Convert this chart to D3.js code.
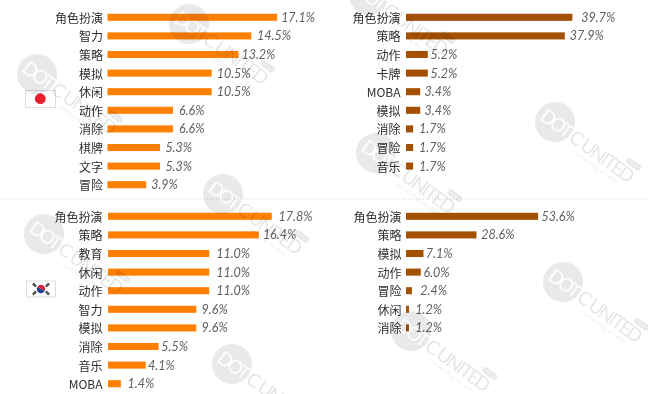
<!DOCTYPE html>
<html><head><meta charset="utf-8">
<script src="https://cdn.jsdelivr.net/npm/d3@7"></script>
<style>
html,body{margin:0;padding:0;background:#fff}
svg{display:block;filter:blur(.35px)}
.cat{font-family:"Noto Sans CJK SC",sans-serif;font-size:12px;fill:#2e2e2e;text-anchor:end;dominant-baseline:central}
.val{font-family:"Lato","Open Sans",sans-serif;font-style:italic;font-size:12.5px;fill:#5f5f5f;letter-spacing:0;dominant-baseline:central}
.wm{font-family:"Lato",sans-serif;font-weight:400}
</style></head><body>
<svg id="c" width="648" height="394"></svg>
<script>
const jpRevenueCats=["角色扮演","智力","策略","模拟","休闲","动作","消除","棋牌","文字","冒险"];
const jpRevenueVals=[17.1,14.5,13.2,10.5,10.5,6.6,6.6,5.3,5.3,3.9];
const jpDownloadCats=["角色扮演","策略","动作","卡牌","MOBA","模拟","消除","冒险","音乐"];
const jpDownloadVals=[39.7,37.9,5.2,5.2,3.4,3.4,1.7,1.7,1.7];
const krRevenueCats=["角色扮演","策略","教育","休闲","动作","智力","模拟","消除","音乐","MOBA"];
const krRevenueVals=[17.8,16.4,11.0,11.0,11.0,9.6,9.6,5.5,4.1,1.4];
const krDownloadCats=["角色扮演","策略","模拟","动作","冒险","休闲","消除"];
const krDownloadVals=[53.6,28.6,7.1,6.0,2.4,1.2,1.2];
// layout only: gap between bar end and its value label
const jpRevenueGaps=[4,5.7,3,5,5,6,6,5.3,5.3,5];
const jpDownloadGaps=[9,5,2.7,2.7,4.3,4.3,6,6,6];
const krRevenueGaps=[6.7,4,7,7,7,5.3,5.3,2.7,2.3,6.7];
const krDownloadGaps=[3.3,4.7,2.3,2.7,8.3,6.3,6.3];
const watermarkCentres=[[37,74],[189,24],[223,194],[44,234],[232,364],[369,-5],[555,122],[376,153],[563,282],[411,331]];

const svg=d3.select("#c");

svg.append("line").attr("x1",0).attr("x2",648).attr("y1",199).attr("y2",199)
  .attr("stroke","#d4d4d4").attr("stroke-dasharray","1 2");

function panel(cats,vals,gaps,color,x0,unit,top,labelX){
  const x=d3.scaleLinear().domain([0,1]).range([x0,x0+unit]);
  const y=d3.scaleBand().domain(d3.range(10)).range([top,top+186]).paddingInner(0.62).paddingOuter(0.31);
  const g=svg.append("g");
  cats.forEach((c,i)=>{
    const cy=y(i)+y.bandwidth()/2;
    g.append("rect").attr("x",x(0)).attr("y",y(i)).attr("width",x(vals[i])-x(0)).attr("height",y.bandwidth()).attr("fill",color);
    g.append("text").attr("class","cat").attr("x",labelX).attr("y",cy).text(c);
    g.append("text").attr("class","val").attr("x",x(vals[i])+gaps[i]).attr("y",cy).text(vals[i].toFixed(1)+"%");
  });
}
panel(jpRevenueCats,jpRevenueVals,jpRevenueGaps,"#ff8000",107.5,9.92,8,103);
panel(jpDownloadCats,jpDownloadVals,jpDownloadGaps,"#a35000",406,4.19,8,400.5);
panel(krRevenueCats,krRevenueVals,krRevenueGaps,"#ff8000",108,9.2,207,102.5);
panel(krDownloadCats,krDownloadVals,krDownloadGaps,"#a35000",406,2.465,207,401.5);

// Japan flag
const jp=svg.append("g");
jp.append("rect").attr("x",25.5).attr("y",90.5).attr("width",30).attr("height",17).attr("fill","#fff").attr("stroke","#ddd");
jp.append("circle").attr("cx",40.3).attr("cy",98.7).attr("r",5.4).attr("fill","#e8202e");
// Korea flag
const kr=svg.append("g").attr("transform","translate(41,289)");
kr.append("rect").attr("x",-14.5).attr("y",-8).attr("width",29).attr("height",16).attr("fill","#fff").attr("stroke","#ddd");
kr.append("path").attr("d",d3.arc()({innerRadius:0,outerRadius:4.2,startAngle:-Math.PI/2+.5,endAngle:Math.PI/2+.5})).attr("fill","#d0263a");
kr.append("path").attr("d",d3.arc()({innerRadius:0,outerRadius:4.2,startAngle:Math.PI/2+.5,endAngle:3*Math.PI/2+.5})).attr("fill","#1f3f8f");
[[-6.5,-4,45],[6.5,-4,-45],[-6.5,4,-45],[6.5,4,45]].forEach(([a,b,r])=>{
  kr.append("rect").attr("x",a-2.2).attr("y",b-1.3).attr("width",4.4).attr("height",2.6).attr("fill","#555").attr("transform",`rotate(${r} ${a} ${b})`);
});

// Knock-out mask: the circle's letters let the chart show through
const mask=svg.append("defs").append("mask").attr("id","wmKnock")
  .attr("maskUnits","userSpaceOnUse").attr("x",-30).attr("y",-30).attr("width",140).attr("height",60);
mask.append("rect").attr("x",-30).attr("y",-30).attr("width",140).attr("height",60).attr("fill","#fff");
mask.append("text").attr("class","wm").attr("x",-15).attr("y",7).attr("font-size",19).attr("textLength",35).attr("fill","#000").text("DOT");
mask.append("text").attr("class","wm").attr("x",88.5).attr("y",-10.3).attr("text-anchor","middle").attr("font-size",4.5).attr("fill","#000").text("GROUP");

// Watermarks lie over everything
const wmLayer=svg.append("g");
watermarkCentres.forEach(([x,y])=>{
  const g=wmLayer.append("g").attr("transform",`translate(${x},${y}) rotate(36)`);
  const ink="rgba(0,0,0,.1)";
  const solid=g.append("g").attr("mask","url(#wmKnock)");
  solid.append("circle").attr("r",20).attr("fill","rgba(0,0,0,.085)");
  solid.append("rect").attr("x",80).attr("y",-15).attr("width",17).attr("height",6).attr("rx",3).attr("fill",ink);
  g.append("text").attr("class","wm").attr("x",21).attr("y",7).attr("font-size",19).attr("textLength",75).attr("fill",ink).text("C UNITED");
  g.append("text").attr("class","wm").attr("x",36).attr("y",14).attr("font-size",5).attr("textLength",50).attr("fill",ink).text("connecting the dots");
});
</script></body></html>
